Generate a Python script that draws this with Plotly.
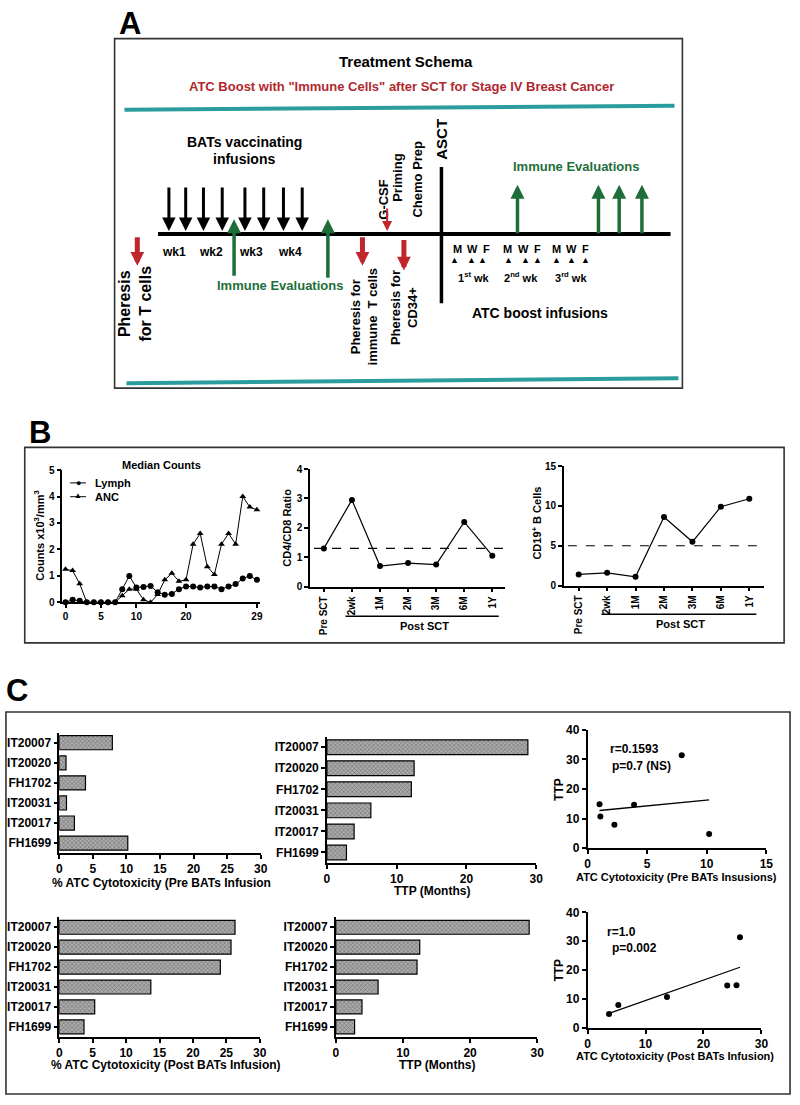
import numpy as np
import plotly.graph_objects as go

W, H = 800, 1105
FONT = "Liberation Sans"

# ---------------- data ----------------
sample_index = list(range(28))
day_tick_pos = [0, 5, 10, 17, 27]
day_tick_text = ["0", "5", "10", "20", "29"]
lymph = [0.0, 0.1, 0.06, 0, 0, 0, 0, 0, 0.5, 1.0, 0.56, 0.58, 0.62, 0.38,
         0.29, 0.32, 0.5, 0.6, 0.6, 0.56, 0.6, 0.6, 0.5, 0.6, 0.69, 0.9, 1.0, 0.85]
anc = [1.25, 1.2, 0.7, 0, 0, 0, 0, 0, 0.25, 0.5, 0.5, 0.1, 0, 0.3,
       0.85, 1.1, 0.8, 0.85, 2.2, 2.6, 1.35, 1.05, 2.2, 2.6, 2.2, 4.0, 3.6, 3.5]

timepoints = ["Pre SCT", "2wk", "1M", "2M", "3M", "6M", "1Y"]
cd4_cd8_ratio = [1.3, 2.95, 0.7, 0.8, 0.75, 2.2, 1.05]
cd19_b_cells = [1.4, 1.6, 1.1, 8.6, 5.5, 9.9, 10.9]
cd4_cd8_ref = 1.3
cd19_ref = 5.0

patients = ["IT20007", "IT20020", "FH1702", "IT20031", "IT20017", "FH1699"]
cytotox_pre = [7.9, 1.0, 3.9, 1.07, 2.25, 10.2]
cytotox_post = [26.3, 25.7, 24.1, 13.7, 5.3, 3.7]
ttp_months = [28.8, 12.5, 12.1, 6.3, 3.9, 2.8]
ttp_scatter = [31.4, 14.8, 14.7, 10.7, 7.9, 4.8]
stat_pre = ["r=0.1593", "p=0.7 (NS)"]
stat_post = ["r=1.0", "p=0.002"]

# ---------------- helpers ----------------
def fx(x):
    return x / W

def fy(y):
    return 1 - y / H

def dom_x(a, b):
    return [fx(a), fx(b)]

def dom_y(top, bottom):
    return [fy(bottom), fy(top)]

def ax_style(size=11, **kw):
    d = dict(showline=True, linecolor="black", linewidth=1.5, ticks="outside",
             ticklen=4, tickwidth=1.5, tickcolor="black", showgrid=False,
             zeroline=False, fixedrange=True,
             tickfont=dict(family=FONT, size=size, color="black", weight="bold"))
    d.update(kw)
    return d

def txt(x, y, s, size, color="black", angle=0, bold=True, xanchor="center"):
    return dict(x=fx(x), y=fy(y), xref="paper", yref="paper", text=s,
                showarrow=False, textangle=angle, xanchor=xanchor, yanchor="middle",
                font=dict(family=FONT, size=size, color=color,
                          weight="bold" if bold else "normal"))

def arrow(x, y_tail, y_tip, color, width, size):
    return dict(x=fx(x), y=fy(y_tip), xref="paper", yref="paper",
                ax=0, ay=y_tail - y_tip, axref="pixel", ayref="pixel",
                showarrow=True, arrowhead=2, arrowsize=size, arrowwidth=width,
                arrowcolor=color, text="")

fig = go.Figure()

# ---------------- Panel B ----------------
fig.add_trace(go.Scatter(x=sample_index, y=lymph, name="Lymph", mode="lines+markers",
                         line=dict(color="black", width=1),
                         marker=dict(symbol="circle", size=6, color="black"),
                         showlegend=False, cliponaxis=False, xaxis="x", yaxis="y"))
fig.add_trace(go.Scatter(x=sample_index, y=anc, name="ANC", mode="lines+markers",
                         line=dict(color="black", width=1),
                         marker=dict(symbol="triangle-up", size=6, color="black"),
                         showlegend=False, cliponaxis=False, xaxis="x", yaxis="y"))
fig.add_trace(go.Scatter(x=list(range(len(timepoints))), y=cd4_cd8_ratio, mode="lines+markers",
                         line=dict(color="black", width=1.2),
                         marker=dict(size=6, color="black"), showlegend=False,
                         cliponaxis=False, xaxis="x2", yaxis="y2"))
fig.add_trace(go.Scatter(x=list(range(len(timepoints))), y=cd19_b_cells, mode="lines+markers",
                         line=dict(color="black", width=1.2),
                         marker=dict(size=6, color="black"), showlegend=False,
                         cliponaxis=False, xaxis="x3", yaxis="y3"))

# ---------------- Panel C bars ----------------
bar_marker = dict(color="#7a7a7a", line=dict(color="black", width=1.2),
                  pattern=dict(shape="x", size=3, fgcolor="#333333",
                               bgcolor="#ababab", solidity=0.35))
for vals, xa, ya in [(cytotox_pre, "x4", "y4"), (ttp_months, "x5", "y5"),
                     (cytotox_post, "x7", "y7"), (ttp_months, "x8", "y8")]:
    fig.add_trace(go.Bar(x=vals, y=patients, orientation="h", marker=bar_marker,
                         width=0.7, showlegend=False, xaxis=xa, yaxis=ya))

# ---------------- Panel C scatter ----------------
for xs, xa, ya in [(cytotox_pre, "x6", "y6"), (cytotox_post, "x9", "y9")]:
    fig.add_trace(go.Scatter(x=xs, y=ttp_scatter, mode="markers",
                             marker=dict(size=6, color="black"), showlegend=False,
                             cliponaxis=False, xaxis=xa, yaxis=ya))
    slope, icpt = np.polyfit(xs, ttp_scatter, 1)
    xl = np.array([min(xs), max(xs)])
    fig.add_trace(go.Scatter(x=xl, y=slope * xl + icpt, mode="lines",
                             line=dict(color="black", width=1.3), showlegend=False,
                             xaxis=xa, yaxis=ya))

n_tp = len(timepoints)
bar_y = dict(type="category", categoryorder="array", categoryarray=patients[::-1],
             range=[-0.5, 5.5])

layout = dict(
    width=W, height=H, margin=dict(l=0, r=0, t=0, b=0),
    paper_bgcolor="white", plot_bgcolor="white",
    font=dict(family=FONT, color="black"),
    showlegend=False,
    bargap=0.3,
    # B1
    xaxis=ax_style(10, domain=dom_x(60, 260), range=[-0.46, 27.4], anchor="y",
                   tickmode="array", tickvals=day_tick_pos, ticktext=day_tick_text),
    yaxis=ax_style(10, domain=dom_y(469, 603), range=[0, 5], dtick=1, anchor="x"),
    # B2
    xaxis2=ax_style(10, domain=dom_x(311, 508), range=[-0.49, n_tp - 0.56], anchor="y2",
                    tickmode="array", tickvals=list(range(n_tp)), ticktext=timepoints,
                    tickangle=-90),
    yaxis2=ax_style(10, domain=dom_y(468, 587), range=[0, 4], dtick=1, anchor="x2"),
    # B3
    xaxis3=ax_style(10, domain=dom_x(568, 771), range=[-0.52, n_tp - 0.47], anchor="y3",
                    tickmode="array", tickvals=list(range(n_tp)), ticktext=timepoints,
                    tickangle=-90),
    yaxis3=ax_style(10, domain=dom_y(465, 586), range=[0, 15], dtick=5, anchor="x3"),
    # C pre cytotox
    xaxis4=ax_style(12, domain=dom_x(57, 261), range=[0, 30], dtick=5, anchor="y4"),
    yaxis4=ax_style(12, domain=dom_y(735, 857), anchor="x4", **bar_y),
    # C pre TTP
    xaxis5=ax_style(12, domain=dom_x(328, 540), range=[0, 30], dtick=10, anchor="y5"),
    yaxis5=ax_style(12, domain=dom_y(739, 867), anchor="x5", **bar_y),
    # C pre scatter
    xaxis6=ax_style(12, domain=dom_x(592, 773), range=[0, 15], dtick=5, anchor="y6"),
    yaxis6=ax_style(12, domain=dom_y(732, 852), range=[0, 40], dtick=10, anchor="x6"),
    # C post cytotox
    xaxis7=ax_style(12, domain=dom_x(57, 260), range=[0, 30], dtick=5, anchor="y7"),
    yaxis7=ax_style(12, domain=dom_y(922, 1043), anchor="x7", **bar_y),
    # C post TTP
    xaxis8=ax_style(12, domain=dom_x(337, 541), range=[0, 30], dtick=10, anchor="y8"),
    yaxis8=ax_style(12, domain=dom_y(922, 1043), anchor="x8", **bar_y),
    # C post scatter
    xaxis9=ax_style(12, domain=dom_x(592, 768), range=[0, 30], dtick=10, anchor="y9"),
    yaxis9=ax_style(12, domain=dom_y(917, 1034), range=[0, 40], dtick=10, anchor="x9"),
)

TEAL = "#2a9c9d"
RED = "#c0272d"
GREEN = "#1f6e3a"
DARKRED = "#b0282e"

shapes = [
    # frames
    dict(type="rect", xref="paper", yref="paper", x0=fx(113), x1=fx(688), y0=fy(386), y1=fy(32),
         line=dict(color="#333", width=1.6)),
    dict(type="rect", xref="paper", yref="paper", x0=fx(22), x1=fx(791), y0=fy(644), y1=fy(446),
         line=dict(color="#333", width=1.6)),
    dict(type="rect", xref="paper", yref="paper", x0=fx(3), x1=fx(797), y0=fy(1101), y1=fy(714),
         line=dict(color="#333", width=1.6)),
    # teal rules
    dict(type="line", xref="paper", yref="paper", x0=fx(123), x1=fx(680), y0=fy(104), y1=fy(100),
         line=dict(color=TEAL, width=4)),
    dict(type="line", xref="paper", yref="paper", x0=fx(125), x1=fx(684), y0=fy(381), y1=fy(376),
         line=dict(color=TEAL, width=4)),
    # timeline and ASCT bar
    dict(type="line", xref="paper", yref="paper", x0=fx(157), x1=fx(676), y0=fy(230), y1=fy(230),
         line=dict(color="black", width=4)),
    dict(type="line", xref="paper", yref="paper", x0=fx(444), x1=fx(444), y0=fy(162), y1=fy(300),
         line=dict(color="black", width=3.5)),
    # reference dashed lines
    dict(type="line", xref="x2 domain", yref="y2", x0=0.02, x1=1, y0=cd4_cd8_ref, y1=cd4_cd8_ref,
         line=dict(color="black", width=1.2, dash="dash")),
    dict(type="line", xref="x3 domain", yref="y3", x0=0.02, x1=1, y0=cd19_ref, y1=cd19_ref,
         line=dict(color="black", width=1.2, dash="dash")),
    # Post SCT brackets
    dict(type="line", xref="x2", yref="paper", x0=0.77, x1=6.23, y0=fy(617), y1=fy(617),
         line=dict(color="black", width=1.6)),
    dict(type="line", xref="x3", yref="paper", x0=0.8, x1=6.25, y0=fy(615), y1=fy(615),
         line=dict(color="black", width=1.6)),
    # legend line samples (B1)
    dict(type="line", xref="paper", yref="paper", x0=fx(68), x1=fx(84), y0=fy(482), y1=fy(482),
         line=dict(color="black", width=1)),
    dict(type="line", xref="paper", yref="paper", x0=fx(68), x1=fx(84), y0=fy(496), y1=fy(496),
         line=dict(color="black", width=1)),
]

ann = []
# panel letters
ann += [txt(129, 17, "A", 31), txt(37, 431, "B", 31), txt(14, 692, "C", 31)]
# Panel A texts
ann += [
    txt(408, 55, "Treatment Schema", 15),
    txt(404, 81, 'ATC Boost with "Immune Cells" after SCT for Stage IV Breast Cancer', 13, DARKRED),
    txt(245, 137, "BATs vaccinating", 14),
    txt(244, 154, "infusions", 14),
    txt(173, 248, "wk1", 12), txt(211, 248, "wk2", 12),
    txt(251, 248, "wk3", 12), txt(291, 248, "wk4", 12),
    txt(280, 282, "Immune Evaluations", 13, GREEN),
    txt(580, 162, "Immune Evaluations", 13, GREEN),
    txt(134, 300, "Pheresis<br>for T cells", 16, angle=-90),
    txt(366, 313, "Pheresis for<br>immune  T cells", 13, angle=-90),
    txt(406, 304, "Pheresis for<br>CD34+", 13, angle=-90),
    txt(385, 195, "G-CSF", 13, angle=-90),
    txt(400, 173, "Priming", 13, angle=-90),
    txt(420, 174, "Chemo Prep", 13, angle=-90),
    txt(444, 134, "ASCT", 15, angle=-90),
    txt(544, 310, "ATC boost infusions", 14),
    txt(477, 273, "1<sup>st</sup> wk", 11),
    txt(525, 273, "2<sup>nd</sup> wk", 11),
    txt(575, 273, "3<sup>rd</sup> wk", 11),
]
for xs in [(460, 475, 490), (511, 527, 541), (561, 576, 590)]:
    for x, s in zip(xs, "MWF"):
        ann.append(txt(x, 245, s, 11))
for x in [457, 474, 486, 512, 529, 541, 561, 576, 590]:
    ann.append(txt(x, 256, "▲", 9, bold=False))
# arrows
for x in [168, 185, 203, 222, 245, 264, 284, 303]:
    ann.append(arrow(x, 182, 227, "black", 3, 0.9))
for x, t0, t1 in [(234, 273, 215), (329, 275, 215), (521, 230, 180),
                  (603, 230, 180), (624, 230, 180), (647, 230, 180)]:
    ann.append(arrow(x, t0, t1, GREEN, 3.5, 0.8))
for x, t0, t1 in [(136, 232, 262), (364, 232, 262), (406, 235, 267)]:
    ann.append(arrow(x, t0, t1, RED, 5, 0.55))
ann.append(arrow(389, 203, 227, RED, 2, 1.0))

# Panel B labels
ann += [
    txt(160, 464, "Median Counts", 11),
    txt(76, 482, "●", 9, bold=False),
    txt(76, 495, "▲", 8, bold=False),
    txt(91, 482, "Lymph", 11, xanchor="left"),
    txt(91, 496, "ANC", 11, xanchor="left"),
    txt(37, 536, "Counts x10<sup>3</sup>/mm<sup>3</sup>", 11, angle=-90),
    txt(288, 527, "CD4/CD8 Ratio", 11, angle=-90),
    txt(541, 523, "CD19<sup>+</sup> B Cells", 11, angle=-90),
    txt(427, 627, "Post SCT", 11),
    txt(686, 625, "Post SCT", 11),
]
# Panel C labels
ann += [
    txt(160, 887, "% ATC Cytotoxicity (Pre BATs Infusion", 12),
    txt(434, 895, "TTP (Months)", 12),
    txt(682, 881, "ATC Cytotoxicity (Pre BATs Insusions)", 11),
    txt(563, 792, "TTP", 12, angle=-90),
    txt(613, 752, stat_pre[0], 12, xanchor="left"),
    txt(615, 769, stat_pre[1], 12, xanchor="left"),
    txt(165, 1072, "% ATC Cytotoxicity (Post BATs Infusion)", 12),
    txt(439, 1072, "TTP (Months)", 12),
    txt(680, 1062, "ATC Cytotoxicity (Post BATs Infusion)", 11),
    txt(563, 975, "TTP", 12, angle=-90),
    txt(610, 937, stat_post[0], 12, xanchor="left"),
    txt(615, 953, stat_post[1], 12, xanchor="left"),
]

layout["shapes"] = shapes
layout["annotations"] = ann
fig.update_layout(**layout)
fig.write_html("out.html", config={"displayModeBar": False},
               post_script="document.body.style.margin='0';document.body.style.overflow='hidden';")
